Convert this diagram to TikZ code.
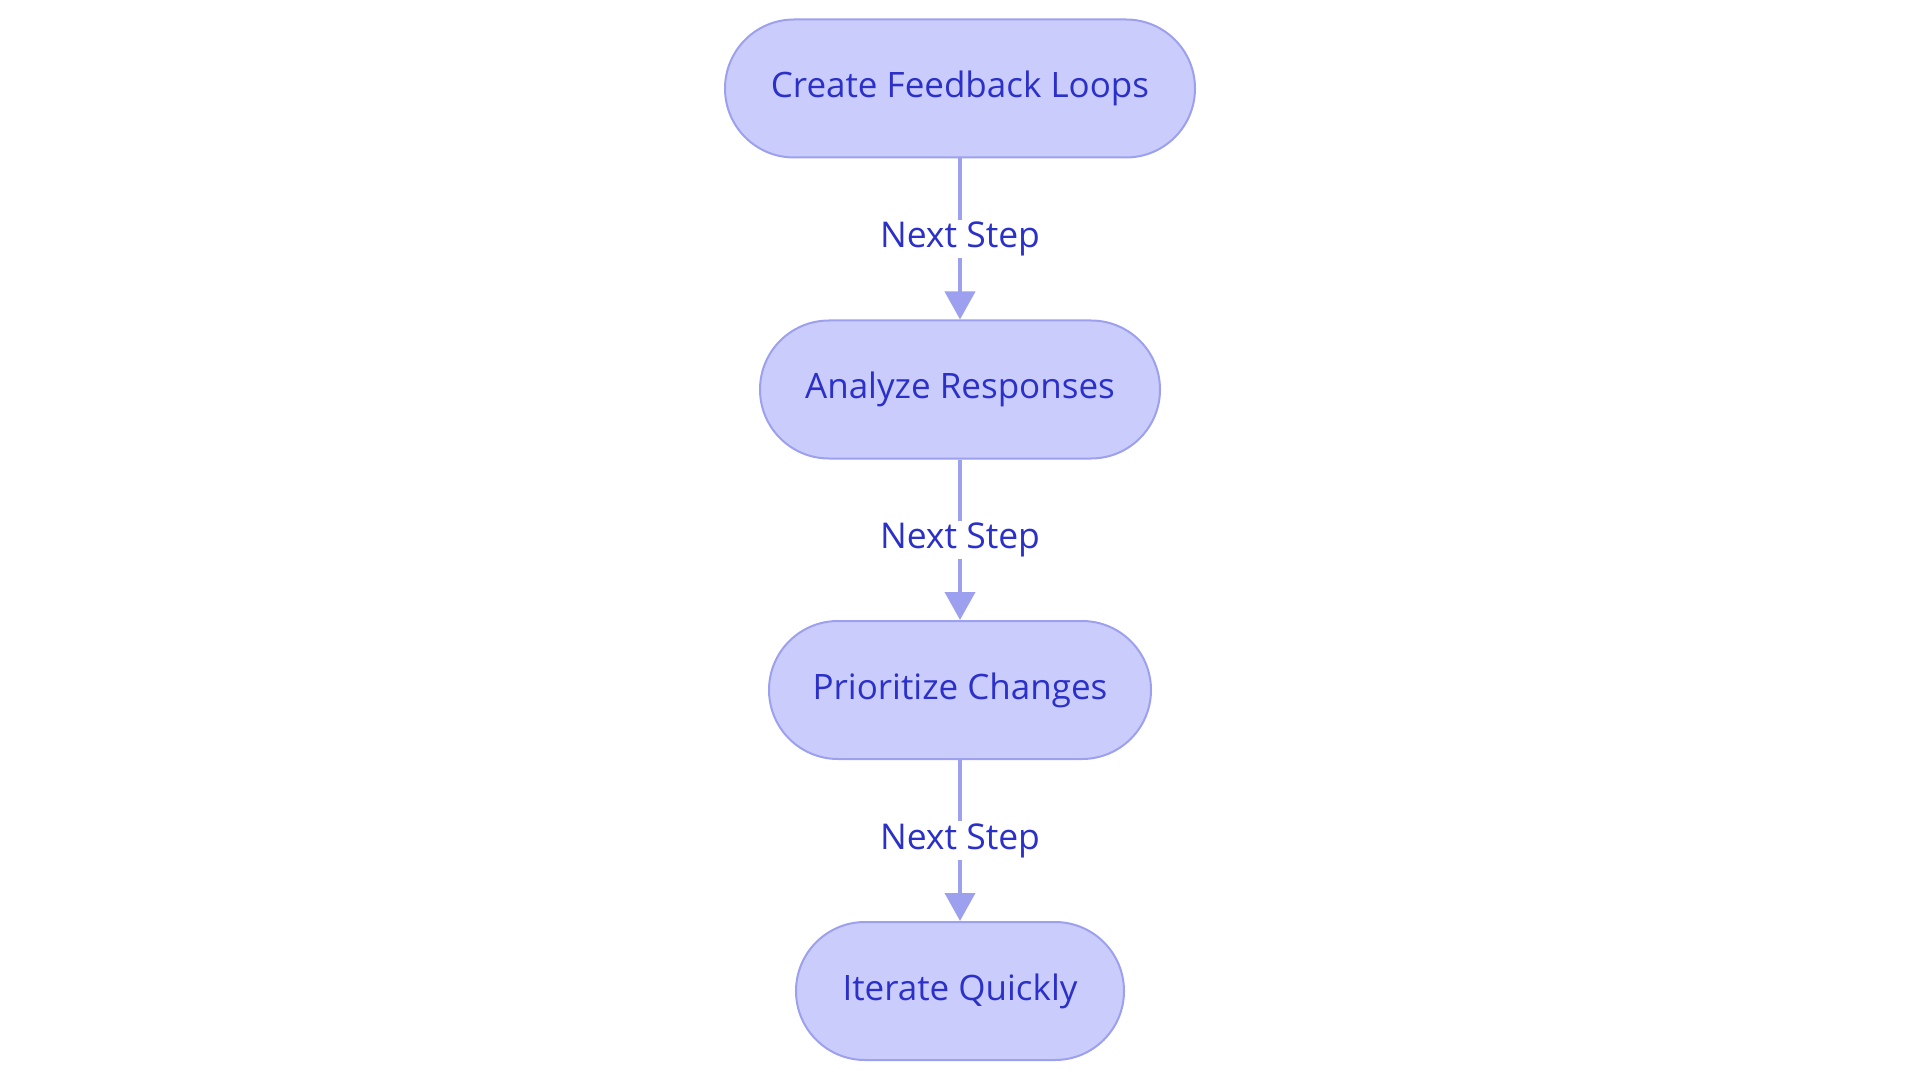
\documentclass[tikz,border=0pt]{standalone}
\usepackage{fontspec}
\setmainfont{Open Sans}
\usetikzlibrary{arrows.meta}
\definecolor{nodefill}{HTML}{CACCFB}
\definecolor{nodeline}{HTML}{9CA0EE}
\definecolor{txt}{HTML}{2B30C9}
\begin{document}
\begin{tikzpicture}[x=1pt,y=-1pt,
  stepbox/.style={draw=nodeline, line width=2pt, fill=nodefill, rounded corners=69pt,
    minimum height=138pt, text=txt, font=\fontsize{35}{42}\selectfont, inner sep=0pt},
  flow/.style={draw=nodeline, line width=4pt, -{Triangle[length=28pt,width=30pt]}},
  lbl/.style={fill=white, text=txt, font=\fontsize{35.5}{42}\selectfont, inner sep=2pt}]
\useasboundingbox (0,0) rectangle (1920,1083);
\node[stepbox, minimum width=470pt] (a) at (960,88.5) {Create Feedback Loops};
\node[stepbox, minimum width=400pt] (b) at (960,389.5) {Analyze Responses};
\node[stepbox, minimum width=382pt] (c) at (960,690) {Prioritize Changes};
\node[stepbox, minimum width=328pt] (d) at (960,991) {Iterate Quickly};
\draw[flow] (a) -- node[lbl] {Next Step} (b);
\draw[flow] (b) -- node[lbl] {Next Step} (c);
\draw[flow] (c) -- node[lbl] {Next Step} (d);
\end{tikzpicture}
\end{document}
